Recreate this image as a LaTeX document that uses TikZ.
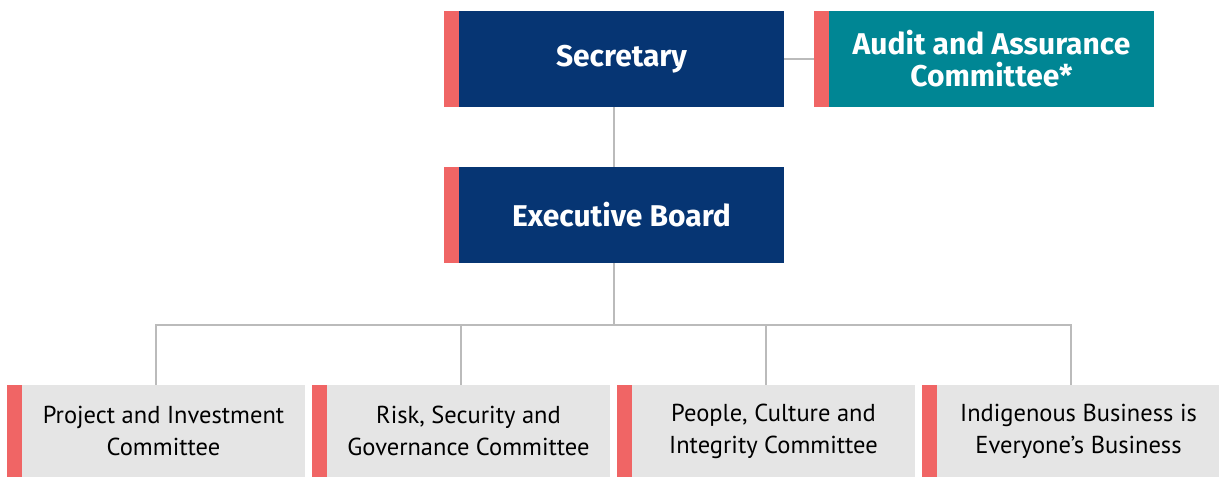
\documentclass[tikz,border=0pt]{standalone}
\usepackage{fontspec}
\setmainfont{PT Sans}
\newfontfamily\headfont{Fira Sans}
\definecolor{navy}{HTML}{063573}
\definecolor{teal}{HTML}{008694}
\definecolor{accent}{HTML}{F06565}
\definecolor{panel}{HTML}{E5E5E5}
\definecolor{wire}{HTML}{BBBBBB}
\tikzset{
    box/.style={minimum height=96pt,inner sep=0pt,align=center,
        append after command={
            \pgfextra{\fill[accent]([xshift=-15pt]\tikzlastnode.south west)rectangle(\tikzlastnode.north west);}}},
    head/.style={box,fill=navy,text=white,minimum width=325pt,font=\headfont\bfseries\fontsize{30pt}{32pt}\selectfont},
    side/.style={head,fill=teal},
    sub/.style={box,fill=panel,text=black,minimum width=283pt,minimum height=92pt,font=\fontsize{24.5pt}{32pt}\selectfont},
    link/.style={draw=wire,line width=1.5pt}
}
\begin{document}
\begin{tikzpicture}[x=1pt,y=1pt]
    \useasboundingbox(0,0)rectangle(1219,-477);
    \node[head](sec)at(621.5,-59){Secretary};
    \node[side](aac)at(991.5,-59){Audit and Assurance\\Committee*};
    \node[head](eb)at(621.5,-215){Executive Board};
    \foreach \i/\name/\txt in {0/pic/Project and Investment\\Committee,
        1/rsg/{Risk, Security and\\Governance Committee},
        2/pci/{People, Culture and\\Integrity Committee},
        3/ibe/Indigenous Business is\\Everyone’s Business}{
        \node[sub](\name)at(163.5+305*\i,-431){\txt};
    }
    \draw[link](sec.east)--([xshift=-15pt]aac.west);
    \draw[link]([xshift=-7.5pt]sec.south)--([xshift=-7.5pt]eb.north);
    \draw[link]([xshift=-7.5pt]eb.south)--++(0,-62)coordinate(bus);
    \foreach \name in {pic,rsg,pci,ibe}{
        \draw[link](bus)-|([xshift=-7.5pt]\name.north);
    }
\end{tikzpicture}
\end{document}
